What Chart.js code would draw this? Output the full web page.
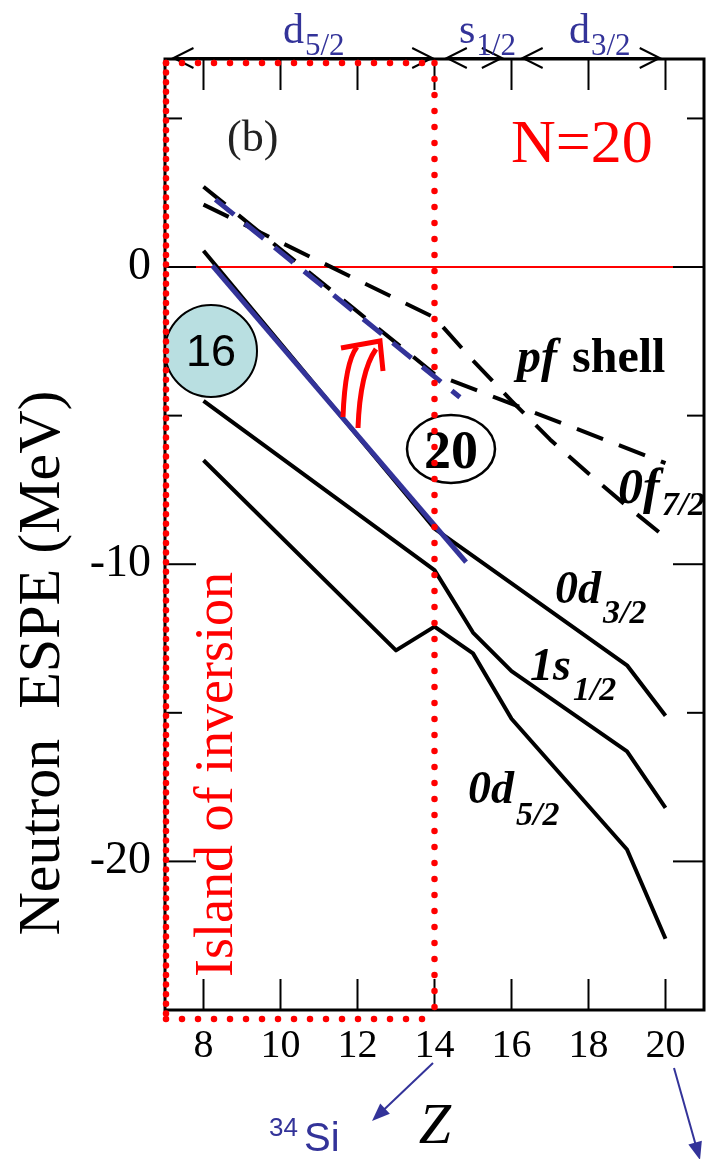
<!DOCTYPE html>
<html>
<head>
<meta charset="utf-8">
<script src="https://cdn.jsdelivr.net/npm/chart.js@4.4.1/dist/chart.umd.min.js"></script>
<style>
  html, body { margin: 0; padding: 0; background: #fff; }
  #wrap { width: 707px; height: 1159px; }
</style>
</head>
<body>
<div id="wrap"><canvas id="espeChart" width="707" height="1159"></canvas></div>
<script>
// Neutron ESPE along N = 20, plotted against proton number Z
const zTicks = [8, 10, 12, 14, 16, 18, 20];
const eTicks = [5, 0, -5, -10, -15, -20];
const eLabelled = [0, -10, -20];

// sd-shell orbitals
const zD32 = [8, 14, 19, 20];
const eD32 = [0.55, -8.8, -13.4, -15.1];
const zS12 = [8, 14, 15, 16, 19, 20];
const eS12 = [-4.5, -10.2, -12.3, -13.6, -16.3, -18.2];
const zD52 = [8, 13, 14, 15, 16, 19, 20];
const eD52 = [-6.5, -12.9, -12.1, -13.0, -15.2, -19.6, -22.6];

// pf-shell orbitals (dashed)
const zPfA = [8, 14, 20];
const ePfA = [2.7, -3.6, -6.6];
const zPfB = [8, 14, 15, 16, 17, 18, 19, 20];
const ePfB = [2.1, -1.7, -3.15, -4.5, -5.8, -6.95, -8.05, -9.1];

// slope guides
const zGuideD32 = [8.23, 14.82];
const eGuideD32 = [0.05, -9.93];
const zGuideF = [8.31, 14.66];
const eGuideF = [2.27, -4.38];

// zero of energy and the island of inversion range in Z
const zZero = [7, 21];
const eZero = [0, 0];
const islandZ = [7, 14];

const SERIF = '"Liberation Serif", "Times New Roman", Times, serif';
const SANS = '"Liberation Sans", Arial, Helvetica, sans-serif';
const NAVY = '#333399';
const RED = '#ff0000';

function pts(zs, es) {
    return zs.map((z, i) => ({ x: z, y: es[i] }));
}

function seg(ctx, x1, y1, x2, y2) {
    ctx.beginPath();
    ctx.moveTo(x1, y1);
    ctx.lineTo(x2, y2);
    ctx.stroke();
}

// main text followed by a lowered subscript
function subText(ctx, x, y, main, sub, mainFont, subFont, drop, gap) {
    ctx.font = mainFont;
    ctx.fillText(main, x, y);
    const w = ctx.measureText(main).width;
    ctx.font = subFont;
    ctx.fillText(sub, x + w + gap, y + drop);
}

function chevron(ctx, tx, ty, dir) {
    ctx.beginPath();
    ctx.moveTo(tx + dir * 20, ty - 10);
    ctx.lineTo(tx, ty);
    ctx.lineTo(tx + dir * 20, ty + 10);
    ctx.stroke();
}

function arrowTo(ctx, x1, y1, x2, y2, color) {
    const ang = Math.atan2(y2 - y1, x2 - x1);
    ctx.strokeStyle = color;
    ctx.fillStyle = color;
    ctx.lineWidth = 2;
    seg(ctx, x1, y1, x2 - 12 * Math.cos(ang), y2 - 12 * Math.sin(ang));
    ctx.beginPath();
    ctx.moveTo(x2, y2);
    ctx.lineTo(x2 - 18 * Math.cos(ang) + 7 * Math.sin(ang), y2 - 18 * Math.sin(ang) - 7 * Math.cos(ang));
    ctx.lineTo(x2 - 18 * Math.cos(ang) - 7 * Math.sin(ang), y2 - 18 * Math.sin(ang) + 7 * Math.cos(ang));
    ctx.closePath();
    ctx.fill();
}

const bands = [
    { from: 7.22, to: 13.94, main: 'd', sub: '5/2', lx: 283 },
    { from: 14.32, to: 15.75, main: 's', sub: '1/2', lx: 459 },
    { from: 16.29, to: 19.85, main: 'd', sub: '3/2', lx: 569 }
];

const levelLabels = [
    { main: '0d', sub: '3/2', x: 555, y: 603, size: 46, drop: 20 },
    { main: '1s', sub: '1/2', x: 530, y: 680, size: 46, drop: 20 },
    { main: '0d', sub: '5/2', x: 468, y: 803, size: 46, drop: 22 },
    { main: '0f', sub: '7/2', x: 618, y: 503, size: 50, drop: 12 }
];

const overlay = {
    id: 'overlay',
    afterDraw(chart) {
        const { ctx, chartArea: a, scales: { x, y } } = chart;
        ctx.save();

        // frame and inward ticks
        ctx.strokeStyle = '#000';
        ctx.lineWidth = 3;
        ctx.strokeRect(a.left, a.top, a.right - a.left, a.bottom - a.top);
        ctx.lineWidth = 2;
        zTicks.forEach(v => {
            const px = x.getPixelForValue(v);
            seg(ctx, px, a.bottom, px, a.bottom - 31);
            seg(ctx, px, a.top, px, a.top + 31);
        });
        eTicks.forEach(v => {
            const py = y.getPixelForValue(v);
            const len = eLabelled.includes(v) ? 31 : 17;
            seg(ctx, a.left, py, a.left + len, py);
            seg(ctx, a.right, py, a.right - len, py);
        });

        // orbital filling ranges above the frame
        ctx.lineWidth = 2;
        ctx.fillStyle = NAVY;
        ctx.textAlign = 'left';
        ctx.textBaseline = 'alphabetic';
        bands.forEach(b => {
            const x1 = x.getPixelForValue(b.from);
            const x2 = x.getPixelForValue(b.to);
            ctx.strokeStyle = '#000';
            seg(ctx, x1, a.top - 1, x2, a.top - 1);
            chevron(ctx, x1, a.top - 1, 1);
            chevron(ctx, x2, a.top - 1, -1);
            subText(ctx, b.lx, 43, b.main, b.sub, '42px ' + SERIF, '31px ' + SERIF, 12, 1);
        });

        // panel tag and isotone
        ctx.fillStyle = '#222';
        ctx.font = '44px ' + SERIF;
        ctx.fillText('(b)', 227, 151);
        ctx.fillStyle = RED;
        ctx.font = '62px ' + SERIF;
        ctx.fillText('N=20', 511, 162);

        // orbital names
        ctx.fillStyle = '#000';
        levelLabels.forEach(l => {
            subText(ctx, l.x, l.y, l.main, l.sub,
                'italic bold ' + l.size + 'px ' + SERIF,
                'italic bold 34px ' + SERIF, l.drop, 2);
        });
        ctx.font = 'italic bold 48px ' + SERIF;
        ctx.fillText('pf', 517, 372);
        ctx.font = 'bold 48px ' + SERIF;
        ctx.fillText('shell', 572, 372);

        // magic numbers
        ctx.lineWidth = 2;
        ctx.strokeStyle = '#000';
        ctx.beginPath();
        ctx.arc(211, 351, 46, 0, Math.PI * 2);
        ctx.fillStyle = '#b9dfe1';
        ctx.fill();
        ctx.stroke();
        ctx.fillStyle = '#000';
        ctx.textAlign = 'center';
        ctx.textBaseline = 'middle';
        ctx.font = '45px ' + SANS;
        ctx.fillText('16', 211, 354);

        ctx.lineWidth = 2.5;
        ctx.beginPath();
        ctx.ellipse(451, 449, 44, 34, 0, 0, Math.PI * 2);
        ctx.stroke();
        ctx.font = 'bold 54px ' + SERIF;
        ctx.fillText('20', 451, 454);

        // gap-reduction arrow
        ctx.strokeStyle = RED;
        ctx.lineWidth = 5;
        ctx.lineCap = 'butt';
        ctx.beginPath();
        ctx.moveTo(343, 417);
        ctx.quadraticCurveTo(345, 362, 357, 347);
        ctx.moveTo(358, 428);
        ctx.quadraticCurveTo(360, 372, 376, 349);
        ctx.stroke();
        ctx.beginPath();
        ctx.moveTo(341, 348);
        ctx.lineTo(380, 341);
        ctx.lineTo(383, 371);
        ctx.stroke();

        // axis titles
        ctx.fillStyle = '#000';
        ctx.textAlign = 'center';
        ctx.textBaseline = 'alphabetic';
        ctx.save();
        ctx.translate(59, 663);
        ctx.rotate(-Math.PI / 2);
        ctx.font = '60px ' + SERIF;
        ctx.fillText('Neutron  ESPE (MeV)', 0, 0);
        ctx.restore();
        ctx.font = 'italic 58px ' + SERIF;
        ctx.fillText('Z', 435, 1143);

        // 34Si pointer and the one past Z = 20
        ctx.fillStyle = NAVY;
        ctx.textAlign = 'left';
        ctx.font = '26px ' + SANS;
        ctx.fillText('34', 269, 1136);
        ctx.font = '40px ' + SANS;
        ctx.fillText('Si', 304, 1151);
        arrowTo(ctx, 433, 1063, 372, 1121, NAVY);
        arrowTo(ctx, 674, 1068, 700, 1160, NAVY);

        // island of inversion
        ctx.save();
        ctx.translate(232, 977);
        ctx.rotate(-Math.PI / 2);
        ctx.fillStyle = RED;
        ctx.font = '54px ' + SERIF;
        ctx.fillText('Island of inversion', 0, 0);
        ctx.restore();

        const xl = a.left + 1;
        const xr = x.getPixelForValue(islandZ[1]);
        const yt = a.top + 4;
        const yb = a.bottom + 9;
        ctx.strokeStyle = RED;
        ctx.lineWidth = 6.5;
        ctx.lineCap = 'round';
        ctx.setLineDash([0, 16]);
        seg(ctx, xl, yt, xr, yt);
        seg(ctx, xr, yt, xr, yb);
        seg(ctx, xl, yb, xr, yb);
        ctx.setLineDash([0, 9.6]);
        seg(ctx, xl, yt, xl, yb);
        ctx.restore();
    }
};

const black = { borderColor: '#000', borderWidth: 4, pointRadius: 0, tension: 0, fill: false, borderJoinStyle: 'round' };

new Chart(document.getElementById('espeChart'), {
    type: 'line',
    data: {
        datasets: [
            { label: 'guide f', data: pts(zGuideF, eGuideF), borderColor: NAVY, borderWidth: 5, borderDash: [24, 14], pointRadius: 0, fill: false },
            { label: 'guide d3/2', data: pts(zGuideD32, eGuideD32), borderColor: NAVY, borderWidth: 5, pointRadius: 0, fill: false },
            Object.assign({ label: '0d3/2', data: pts(zD32, eD32) }, black),
            Object.assign({ label: '1s1/2', data: pts(zS12, eS12) }, black),
            Object.assign({ label: '0d5/2', data: pts(zD52, eD52) }, black),
            Object.assign({ label: 'pf A', data: pts(zPfA, ePfA), borderDash: [28, 17] }, black),
            Object.assign({ label: 'pf B', data: pts(zPfB, ePfB), borderDash: [28, 17] }, black),
            { label: 'zero', data: pts(zZero, eZero), borderColor: RED, borderWidth: 2, pointRadius: 0, fill: false }
        ]
    },
    options: {
        responsive: false,
        animation: false,
        events: [],
        layout: { padding: { top: 59, right: 3, left: 0, bottom: 0 } },
        plugins: { legend: { display: false }, tooltip: { enabled: false } },
        scales: {
            x: {
                type: 'linear',
                min: 7,
                max: 21,
                afterBuildTicks: s => { s.ticks = zTicks.map(v => ({ value: v })); },
                afterFit: s => { s.height = 149; },
                grid: { display: false, drawTicks: false },
                border: { display: false },
                ticks: { color: '#000', font: { family: SERIF, size: 40 }, padding: 12, maxRotation: 0, autoSkip: false }
            },
            y: {
                type: 'linear',
                min: -25,
                max: 7,
                afterBuildTicks: s => { s.ticks = eTicks.map(v => ({ value: v })); },
                afterFit: s => { s.width = 165; },
                grid: { display: false, drawTicks: false },
                border: { display: false },
                ticks: {
                    color: '#000',
                    font: { family: SERIF, size: 46 },
                    padding: 14,
                    autoSkip: false,
                    callback: v => eLabelled.includes(v) ? String(v) : ''
                }
            }
        }
    },
    plugins: [overlay]
});
</script>
</body>
</html>
